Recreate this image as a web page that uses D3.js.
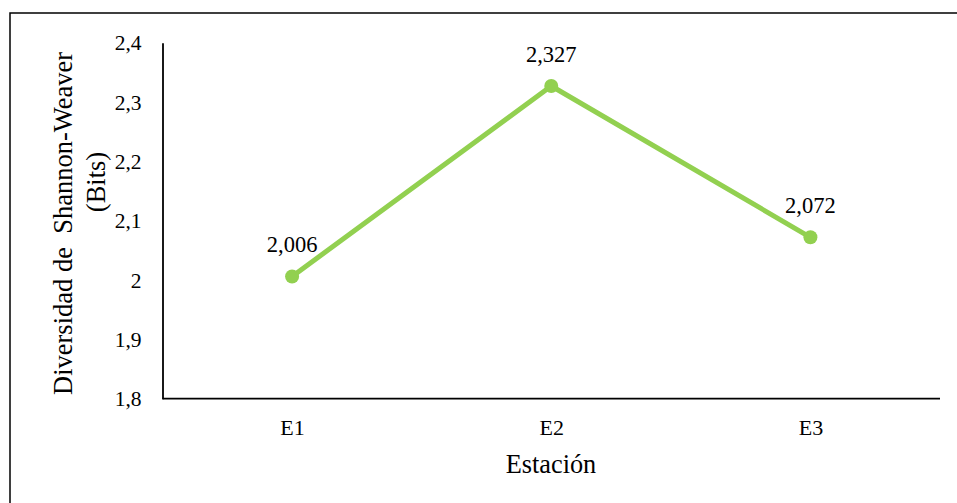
<!DOCTYPE html>
<html>
<head>
<meta charset="utf-8">
<script src="https://cdn.jsdelivr.net/npm/d3@7"></script>
<style>
  html, body { margin: 0; padding: 0; background: #fff; }
  svg { display: block; }
  text { font-family: "Liberation Serif", "Times New Roman", serif; fill: #000; }
</style>
</head>
<body>
<svg id="chart" width="957" height="503"></svg>
<script>
const categories = ["E1", "E2", "E3"];
const values = [2.006, 2.327, 2.072];
const valueLabels = ["2,006", "2,327", "2,072"];
const yTicks = [1.8, 1.9, 2.0, 2.1, 2.2, 2.3, 2.4];
const yTickLabels = ["1,8", "1,9", "2", "2,1", "2,2", "2,3", "2,4"];
const xTitle = "Estación";
const yTitleLines = ["Diversidad de  Shannon-Weaver", "(Bits)"];

(function () {
const svg = d3.select("#chart");
const pL = 162.5, pR = 940, pT = 42.7, pB = 398.7;
const green = "#92d050";

// outer border (cropped: only top and left visible)
svg.append("rect")
  .attr("x", 10).attr("y", 13)
  .attr("width", 1000).attr("height", 600)
  .attr("fill", "none").attr("stroke", "#000").attr("stroke-width", 1.5);

const x = d3.scalePoint().domain(categories).range([pL, pR]).padding(0.5);
const y = d3.scaleLinear().domain([1.8, 2.4]).range([pB, pT]);

// Y axis
const yAxis = svg.append("g")
  .attr("transform", `translate(${pL},0)`)
  .call(d3.axisLeft(y).tickValues(yTicks).tickSize(0).tickPadding(21)
    .tickFormat((d, i) => yTickLabels[i]));
yAxis.select(".domain").attr("stroke", "#000").attr("stroke-width", 1.8);
yAxis.selectAll("text")
  .style("font-family", "'Liberation Serif', 'Times New Roman', serif")
  .style("font-size", "21.5px").attr("dy", "0.33em");

// X axis
const xAxis = svg.append("g")
  .attr("transform", `translate(0,${pB})`)
  .call(d3.axisBottom(x).tickSize(0).tickPadding(0));
xAxis.select(".domain").attr("stroke", "#000").attr("stroke-width", 1.8)
  .attr("d", `M${pL},0H${pR}`);
xAxis.selectAll("text")
  .style("font-family", "'Liberation Serif', 'Times New Roman', serif")
  .style("font-size", "22px").attr("y", 36.3).attr("dy", 0);

// Line
const data = categories.map((c, i) => ({ c, v: values[i], label: valueLabels[i] }));
svg.append("path")
  .datum(data)
  .attr("fill", "none")
  .attr("stroke", green)
  .attr("stroke-width", 5)
  .attr("stroke-linejoin", "round")
  .attr("d", d3.line().x(d => x(d.c)).y(d => y(d.v)));

svg.selectAll("circle.pt")
  .data(data).enter().append("circle")
  .attr("class", "pt")
  .attr("cx", d => x(d.c)).attr("cy", d => y(d.v))
  .attr("r", 7).attr("fill", green);

svg.selectAll("text.lbl")
  .data(data).enter().append("text")
  .attr("class", "lbl")
  .attr("x", d => x(d.c)).attr("y", d => y(d.v) - 24)
  .attr("text-anchor", "middle")
  .style("font-size", "22.5px")
  .text(d => d.label);

// Axis titles
svg.append("text")
  .attr("x", 551).attr("y", 473.3)
  .attr("text-anchor", "middle")
  .style("font-size", "26.3px")
  .text(xTitle);

svg.append("text")
  .attr("transform", "translate(71.7,223.5) rotate(-90)")
  .attr("text-anchor", "middle")
  .style("font-size", "26.5px")
  .style("white-space", "pre")
  .text(yTitleLines[0]);

svg.append("text")
  .attr("transform", "translate(105,182) rotate(-90)")
  .attr("text-anchor", "middle")
  .style("font-size", "26.5px")
  .text(yTitleLines[1]);
})();
</script>
</body>
</html>
